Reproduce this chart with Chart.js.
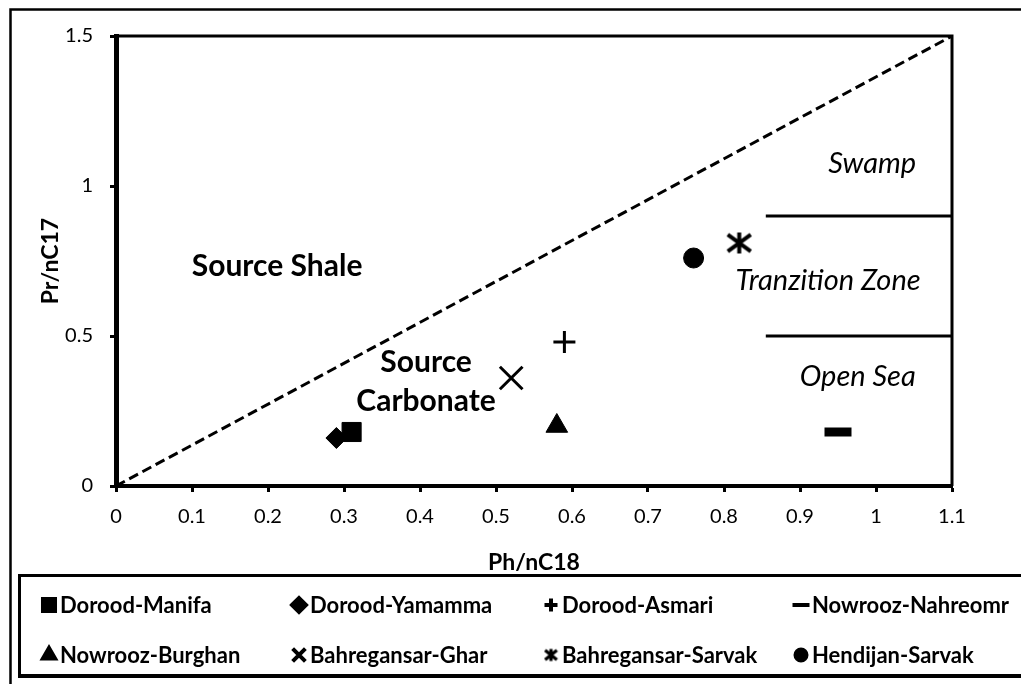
<!DOCTYPE html>
<html>
<head>
<meta charset="utf-8">
<script src="https://cdn.jsdelivr.net/npm/chart.js@4/dist/chart.umd.min.js"></script>
<style>
  body { margin: 0; background: #fff; }
  canvas { display: block; }
</style>
</head>
<body>
<canvas id="chart" width="1021" height="684"></canvas>
<script>
// samples
var seriesNames = ["Dorood-Manifa", "Dorood-Yamamma", "Dorood-Asmari", "Nowrooz-Nahreomr",
                   "Nowrooz-Burghan", "Bahregansar-Ghar", "Bahregansar-Sarvak", "Hendijan-Sarvak"];
var phValues = [0.31, 0.29, 0.59, 0.95, 0.58, 0.52, 0.82, 0.76];   // Ph/nC18
var prValues = [0.18, 0.16, 0.48, 0.18, 0.20, 0.36, 0.81, 0.76];   // Pr/nC17

// source divider and environment boundaries
var dividerX = [0, 1.1];
var dividerY = [0, 1.5];
var zoneLineX = [0.855, 1.1];
var swampLineY = 0.9;
var openSeaLineY = 0.5;

var xTickValues = [0, 0.1, 0.2, 0.3, 0.4, 0.5, 0.6, 0.7, 0.8, 0.9, 1, 1.1];
var xTickLabels = ["0", "0.1", "0.2", "0.3", "0.4", "0.5", "0.6", "0.7", "0.8", "0.9", "1", "1.1"];
var yTickValues = [0, 0.5, 1, 1.5];
var yTickLabels = ["0", "0.5", "1", "1.5"];

var FONT = "Lato";

// asterisk marker: an X with a vertical bar
function makeStar(w, hgt, lw) {
    var c = document.createElement("canvas");
    c.width = w; c.height = hgt;
    var g = c.getContext("2d");
    var cx = w / 2, cy = hgt / 2;
    var ax = cx - lw / 2, ay = cy - lw / 2;
    g.strokeStyle = "#000";
    g.lineWidth = lw;
    g.beginPath();
    g.moveTo(cx - ax, cy - ay * 0.8); g.lineTo(cx + ax, cy + ay * 0.8);
    g.moveTo(cx + ax, cy - ay * 0.8); g.lineTo(cx - ax, cy + ay * 0.8);
    g.moveTo(cx, cy - ay); g.lineTo(cx, cy + ay);
    g.stroke();
    return c;
}
var starBig = makeStar(27, 25, 4);
var starSmall = makeStar(15, 15, 3.2);

// marker styles: [pointStyle, radius, borderWidth, legendRadius, legendBorder]
var markers = [
    ["rect", 13.5, 1, 8.5, 1],
    ["rectRot", 10.5, 1, 7, 1],
    ["cross", 11, 3, 6.5, 2.5],
    ["line", 13.5, 9, 8.5, 5],
    ["triangle", 12.5, 1, 7, 1],
    ["crossRot", 16, 3, 9, 2.2],
    [starBig, 12, 1, 7, 1],
    ["circle", 10, 1, 5.5, 1]
];

var datasets = seriesNames.map(function (name, i) {
    return {
        label: name,
        data: [{x: phValues[i], y: prValues[i]}],
        pointStyle: markers[i][0],
        pointRadius: markers[i][1],
        pointBorderWidth: markers[i][2],
        backgroundColor: "#000",
        borderColor: "#000",
        showLine: false
    };
});

datasets.push({
    label: "divider",
    type: "line",
    data: [{x: dividerX[0], y: dividerY[0]}, {x: dividerX[1], y: dividerY[1]}],
    borderColor: "#000",
    borderWidth: 3,
    borderDash: [10, 5],
    pointRadius: 0
});
[swampLineY, openSeaLineY].forEach(function (yv) {
    datasets.push({
        label: "zone",
        type: "line",
        data: [{x: zoneLineX[0], y: yv}, {x: zoneLineX[1], y: yv}],
        borderColor: "#000",
        borderWidth: 3,
        pointRadius: 0
    });
});

// text labels placed in data units
var notes = [
    {text: "Source Shale", x: 0.212, y: 0.733, font: "bold 30px " + FONT},
    {text: "Source", x: 0.408, y: 0.413, font: "bold 30px " + FONT},
    {text: "Carbonate", x: 0.408, y: 0.283, font: "bold 30px " + FONT},
    {text: "Swamp", x: 0.995, y: 1.073, font: "italic 29px " + FONT},
    {text: "Tranzition Zone", x: 0.937, y: 0.683, font: "italic 29px " + FONT},
    {text: "Open Sea", x: 0.976, y: 0.363, font: "italic 29px " + FONT}
];

var framePlugin = {
    id: "frame",
    afterDatasetsDraw: function (chart) {
        var ctx = chart.ctx, a = chart.chartArea;
        var xs = chart.scales.x, ys = chart.scales.y;
        ctx.save();
        ctx.strokeStyle = "#000";
        // top and right of plot area
        ctx.lineWidth = 3;
        ctx.beginPath();
        ctx.moveTo(a.left, a.top); ctx.lineTo(a.right, a.top); ctx.lineTo(a.right, a.bottom);
        ctx.stroke();

        ctx.fillStyle = "#000";
        ctx.textAlign = "center";
        ctx.textBaseline = "middle";
        notes.forEach(function (n) {
            ctx.font = n.font;
            ctx.fillText(n.text, xs.getPixelForValue(n.x), ys.getPixelForValue(n.y));
        });
        ctx.restore();
    },
    afterDraw: function (chart) {
        var ctx = chart.ctx;
        ctx.save();
        ctx.strokeStyle = "#000";
        // outer chart frame
        ctx.lineWidth = 2.5;
        ctx.beginPath();
        ctx.moveTo(10.5, 690); ctx.lineTo(10.5, 9.5); ctx.lineTo(1030, 9.5);
        ctx.stroke();
        // legend box
        ctx.lineWidth = 3;
        ctx.beginPath();
        ctx.moveTo(1030, 575.5); ctx.lineTo(19.5, 575.5); ctx.lineTo(19.5, 676);
        ctx.stroke();
        ctx.lineWidth = 4;
        ctx.beginPath();
        ctx.moveTo(18, 676); ctx.lineTo(1030, 676);
        ctx.stroke();

        // legend entries in a 4 x 2 grid
        var cols = [49, 299, 551, 801];
        var rows = [605, 655];
        ctx.font = "bold 22px " + FONT;
        ctx.textAlign = "left";
        ctx.textBaseline = "middle";
        ctx.fillStyle = "#000";
        seriesNames.forEach(function (name, i) {
            var cx = cols[i % 4], cy = rows[Math.floor(i / 4)];
            var m = markers[i];
            var style = (m[0] === starBig) ? starSmall : m[0];
            Chart.helpers.drawPoint(ctx, {
                pointStyle: style, radius: m[3], borderWidth: m[4], rotation: 0
            }, cx, cy);
            ctx.fillStyle = "#000";
            ctx.fillText(name, cx + 11, cy + 1);
        });
        ctx.restore();
    }
};

var ctx = document.getElementById("chart").getContext("2d");
Chart.defaults.font.family = FONT;
Chart.defaults.color = "#000";

new Chart(ctx, {
    type: "scatter",
    data: {datasets: datasets},
    options: {
        responsive: false,
        animation: false,
        layout: {padding: {left: 0, top: 36, right: 69, bottom: 108}},
        plugins: {legend: {display: false}, tooltip: {enabled: false}},
        scales: {
            x: {
                type: "linear",
                min: 0, max: 1.1,
                afterBuildTicks: function (s) { s.ticks = xTickValues.map(function (v) { return {value: v}; }); },
                afterFit: function (s) { s.height = 90; },
                ticks: {
                    font: {size: 20}, padding: 13, color: "#000", maxRotation: 0,
                    callback: function (v, i) { return xTickLabels[i]; }
                },
                grid: {drawOnChartArea: false, tickLength: 6, tickWidth: 3, tickColor: "#000"},
                border: {color: "#000", width: 4},
                title: {display: true, text: "Ph/nC18", font: {size: 23, weight: "bold"}, color: "#000", padding: {top: 0, bottom: 0}}
            },
            y: {
                type: "linear",
                min: 0, max: 1.5,
                afterBuildTicks: function (s) { s.ticks = yTickValues.map(function (v) { return {value: v}; }); },
                afterFit: function (s) { s.width = 116; },
                ticks: {
                    font: {size: 20}, padding: 17, color: "#000",
                    callback: function (v, i) { return yTickLabels[i]; }
                },
                grid: {drawOnChartArea: false, tickLength: 6, tickWidth: 3, tickColor: "#000"},
                border: {color: "#000", width: 5},
                title: {display: true, text: "Pr/nC17", font: {size: 23, weight: "bold"}, color: "#000", padding: {top: 37, bottom: 0}}
            }
        }
    },
    plugins: [framePlugin]
});
</script>
</body>
</html>
